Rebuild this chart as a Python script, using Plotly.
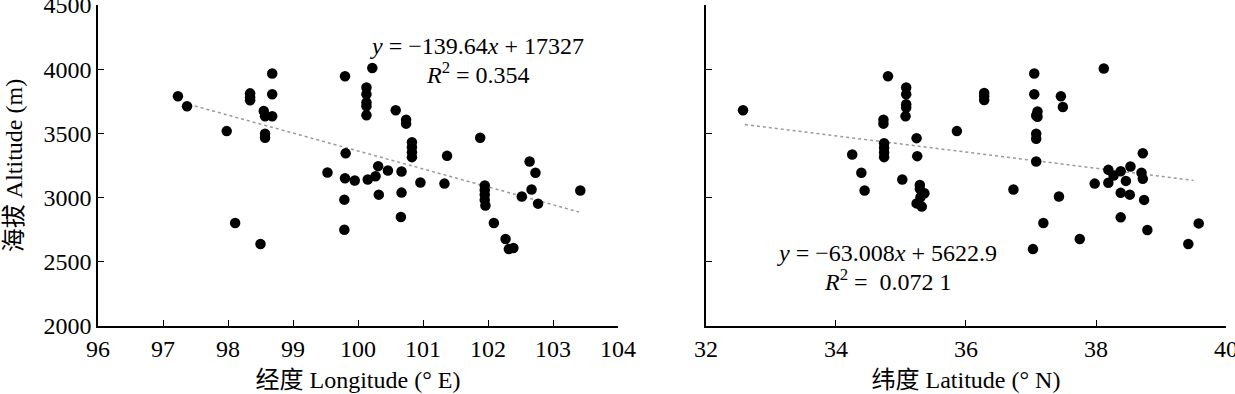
import plotly.graph_objects as go

# Left panel: longitude vs altitude
lon = [97.23, 97.37, 97.98, 98.11, 98.50, 98.34, 98.34, 98.34, 98.68, 98.68,
       98.55, 98.57, 98.68, 98.57, 98.57, 99.80, 99.81, 99.53, 99.80, 99.79,
       99.79, 100.22, 100.13, 100.13, 100.13, 100.13, 100.13, 100.58, 100.74, 100.74,
       100.83, 100.83, 100.83, 100.83, 101.37, 101.88, 100.31, 100.46, 100.67, 99.95,
       100.15, 100.27, 100.96, 101.33, 100.32, 100.67, 100.66, 101.95, 101.95, 101.95,
       101.95, 101.96, 102.09, 102.27, 102.32, 102.39, 102.52, 102.64, 102.73, 102.67,
       102.77, 103.42]
alt_lon = [3789, 3711, 3518, 2802, 2638, 3812, 3781, 3758, 3966, 3805,
           3674, 3633, 3633, 3497, 3466, 3945, 3346, 3195, 3151, 2984,
           2750, 4010, 3857, 3805, 3740, 3711, 3641, 3680, 3607, 3576,
           3432, 3393, 3354, 3315, 3325, 3466, 3245, 3211, 3203, 3133,
           3141, 3166, 3117, 3109, 3023, 3039, 2849, 3094, 3060, 3023,
           2982, 2938, 2802, 2677, 2599, 2607, 3008, 3281, 3193, 3063,
           2953, 3055]

# Right panel: latitude vs altitude
lat = [32.57, 34.25, 34.39, 34.44, 34.80, 34.73, 34.73, 34.74, 34.74, 34.74,
       34.74, 35.08, 35.08, 35.08, 35.08, 35.07, 35.02, 35.24, 35.25, 35.29,
       35.29, 35.36, 35.30, 35.24, 35.32, 35.86, 36.28, 36.28, 36.28, 37.05,
       37.05, 37.10, 37.08, 37.10, 37.08, 37.08, 37.08, 36.73, 37.03, 37.19,
       37.43, 37.46, 37.49, 37.75, 38.12, 37.98, 38.19, 38.19, 38.27, 38.38,
       38.46, 38.38, 38.53, 38.52, 38.38, 38.72, 38.70, 38.72, 38.74, 38.79,
       39.42, 39.58]
alt_lat = [3680, 3336, 3193, 3055, 3945, 3607, 3576, 3424, 3388, 3352,
           3315, 3857, 3805, 3727, 3701, 3633, 3141, 3463, 3323, 3099,
           3068, 3034, 3003, 2955, 2930, 3518, 3815, 3790, 3760, 3966,
           3805, 3670, 3640, 3630, 3497, 3458, 3281, 3063, 2599, 2802,
           3008, 3789, 3705, 2677, 4005, 3109, 3216, 3115, 3172, 3205,
           3130, 3037, 3242, 3023, 2846, 3346, 3193, 3146, 2982, 2748,
           2638, 2799]

# Regression equations shown on the chart
slope_lon, intercept_lon = -139.64, 17327
slope_lat, intercept_lat = -63.008, 5622.9
trend_lon_x = [97.4, 103.4]
trend_lat_x = [32.6, 39.5]

lon_ticks = [96, 97, 98, 99, 100, 101, 102, 103, 104]
lat_ticks = [32, 34, 36, 38, 40]
alt_ticks = [2000, 2500, 3000, 3500, 4000, 4500]

FONT = "Liberation Serif, Times New Roman, Noto Sans CJK SC, serif"
FS = 24

fig = go.Figure()

fig.add_trace(go.Scatter(
    x=trend_lon_x, y=[slope_lon * v + intercept_lon for v in trend_lon_x],
    mode="lines", line=dict(color="#9a9a9a", width=1.5, dash="dot"),
    xaxis="x", yaxis="y", showlegend=False, hoverinfo="skip"))
fig.add_trace(go.Scatter(
    x=lon, y=alt_lon, mode="markers",
    marker=dict(color="black", size=10.5),
    xaxis="x", yaxis="y", showlegend=False))

fig.add_trace(go.Scatter(
    x=trend_lat_x, y=[slope_lat * v + intercept_lat for v in trend_lat_x],
    mode="lines", line=dict(color="#9a9a9a", width=1.5, dash="dot"),
    xaxis="x2", yaxis="y2", showlegend=False, hoverinfo="skip"))
fig.add_trace(go.Scatter(
    x=lat, y=alt_lat, mode="markers",
    marker=dict(color="black", size=10.5),
    xaxis="x2", yaxis="y2", showlegend=False))

axis_common = dict(
    showline=True, linecolor="black", linewidth=1.5,
    ticks="inside", ticklen=6, tickwidth=1.2, tickcolor="black",
    showgrid=False, zeroline=False, automargin=False,
    ticklabeloverflow="allow",
    tickfont=dict(family=FONT, size=FS, color="black"),
)

def ttl(text, standoff):
    return dict(text=text, standoff=standoff, font=dict(family=FONT, size=FS, color="black"))

def ann(x, y, xref, yref, text):
    return dict(x=x, y=y, xref=xref, yref=yref, showarrow=False, text=text,
                font=dict(family=FONT, size=FS, color="black"), align="center")

fig.update_layout(
    width=1235, height=394,
    margin=dict(l=98, r=9, t=5, b=68),
    paper_bgcolor="white", plot_bgcolor="white",
    font=dict(family=FONT, size=FS, color="black"),
    xaxis=dict(domain=[0, 0.4610], range=[96, 104], tickvals=lon_ticks,
               title=ttl("经度 Longitude (° E)", 11), **axis_common),
    yaxis=dict(range=[2000, 4500], tickvals=alt_ticks,
               title=ttl("海拔 Altitude (m)", 14), **axis_common),
    xaxis2=dict(domain=[0.539, 1], range=[32, 40], tickvals=lat_ticks,
                title=ttl("纬度 Latitude (° N)", 11), anchor="y2", **axis_common),
    yaxis2=dict(range=[2000, 4500], tickvals=alt_ticks, showticklabels=False,
                anchor="x2", **axis_common),
    annotations=[
        ann(101.83, 4180, "x", "y", "<i>y</i> = −139.64<i>x</i> + 17327"),
        ann(101.85, 3969, "x", "y", "<i>R</i><sup>2</sup> = 0.354"),
        ann(34.79, 2570, "x2", "y2", "<i>y</i> = −63.008<i>x</i> + 5622.9"),
        ann(34.80, 2359, "x2", "y2", "<i>R</i><sup>2</sup> =  0.072 1"),
    ],
)

fig.write_html("out.html", config={"displayModeBar": False},
               post_script="document.body.style.margin='0px';")
